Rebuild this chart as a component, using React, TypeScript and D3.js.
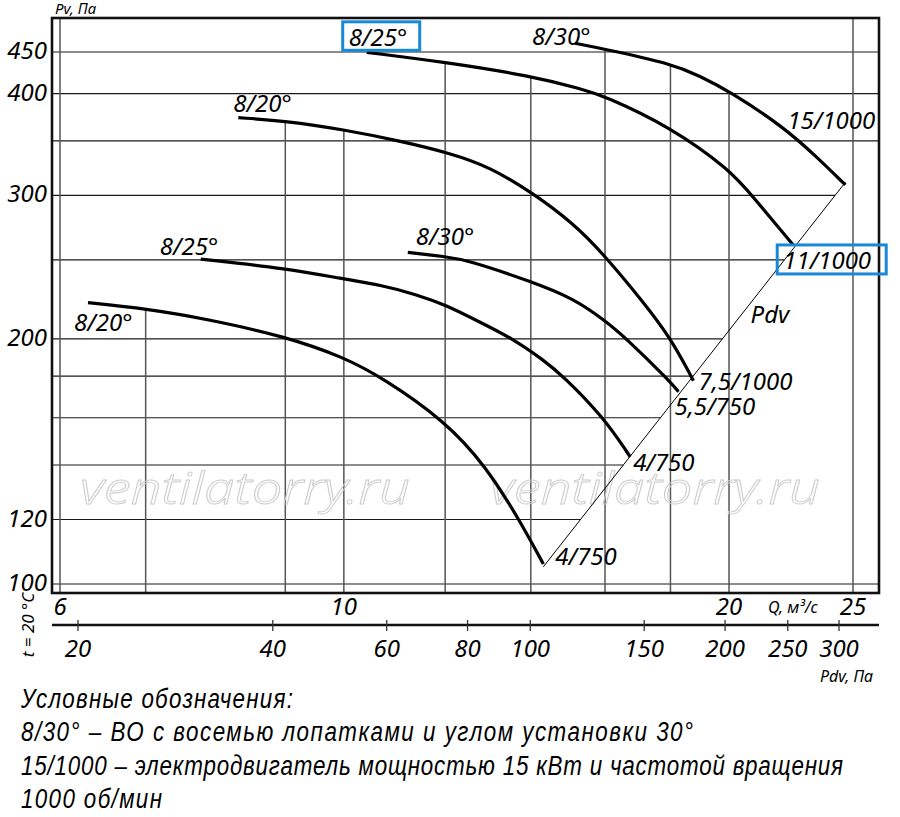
import React from "react";
import * as d3 from "d3";

// ---------- data ----------
const qGridValues = [6, 7, 9, 10, 12, 14, 16, 18, 20, 25];
const qTickLabels = [6, 10, 20, 25];
const pGridValues = [100, 120, 140, 160, 180, 200, 250, 300, 350, 400, 450];
const pTickLabels = [100, 120, 200, 300, 400, 450];
const pdvTickValues = [20, 40, 60, 80, 100, 150, 200, 250, 300];

const c1Q = [6.31, 7.0, 7.82, 9.01, 9.99, 10.74, 12.0, 12.91, 13.71, 14.32];
const c1P = [221.5, 217.8, 211.5, 201.2, 190.0, 178.9, 158.5, 139.6, 120.0, 105.8];
const c2Q = [7.73, 9.01, 9.99, 10.68, 11.4, 12.01, 12.77, 13.56, 14.32, 14.84, 15.97, 16.74];
const c2P = [250.6, 244.1, 236.9, 232.9, 226.7, 220.1, 209.7, 200, 188.4, 180, 160, 143.3];
const c3Q = [11.22, 12.01, 12.48, 14.02, 15.11, 15.98, 16.64, 17.99, 18.26];
const c3P = [255.4, 252.3, 250, 235.1, 224.3, 210.9, 200, 177.2, 172.2];
const c4Q = [8.27, 9.01, 9.99, 11.07, 12.11, 13.01, 14.06, 15.11, 15.98, 17.09, 17.99, 18.76];
const c4P = [373.7, 370.3, 361.4, 349.9, 338.0, 325.1, 301.8, 277.3, 253.5, 223.2, 201.0, 177.7];
const c5Q = [10.42, 12.02, 14.01, 15.38, 15.98, 17.99, 20.04, 20.84, 22.45];
const c5P = [449.6, 437.1, 420.5, 404.9, 397.4, 364.3, 322.4, 300, 260.8];
const c6Q = [15.16, 15.98, 17.99, 18.98, 20.04, 22.05, 23.41, 24.66];
const c6P = [461.2, 453.8, 435.8, 420.5, 402.2, 364.3, 334.7, 309.0];

const bladeLabels = ["8/20°", "8/25°", "8/30°", "8/20°", "8/25°", "8/30°"];
const motorLabels = ["4/750", "4/750", "5,5/750", "7,5/1000", "11/1000", "15/1000"];
const highlightedCurve = 4;

// dynamic pressure line Pdv = k * Q^2
const pdvK = 0.512;
const pdvQRange = [14.32, 24.66];
const pdvLabelQ = 20.2;

const legendLines = [
  "Условные обозначения:",
  "8/30° – ВО с восемью лопатками и углом установки 30°",
  "15/1000 – электродвигатель мощностью 15 кВт и частотой вращения",
  "1000 об/мин",
];
const watermarkText = "ventilatorry.ru";

// ---------- layout ----------
const W = 900;
const H = 817;
const frame = { left: 52, right: 879, top: 18, bottom: 593 };
const startOffsets = [
  [-14, 28],
  [-41, -4],
  [8, -7],
  [-5, -6],
  [-18, -6.5],
  [-43, 1.7],
];
const endOffsets = [
  [12, 1],
  [3, 14],
  [-4, 23],
  [5, 9],
  [-10, 24],
  [-58, -56],
];
const legendWidths = [272, 672, 822, 141];
const legendSquash = 0.8;
const FONT = "'Noto Sans', 'Open Sans', 'DejaVu Sans', sans-serif";
const NARROW = "'Liberation Sans', Arial, 'DejaVu Sans', sans-serif";
const BLUE = "#1a88d8";

const curves = [
  [c1Q, c1P],
  [c2Q, c2P],
  [c3Q, c3P],
  [c4Q, c4P],
  [c5Q, c5P],
  [c6Q, c6P],
];

export default function App() {
  const x = d3.scaleLog().domain([6, 25]).range([60, 853]);
  const y = d3.scaleLog().domain([100, 450]).range([584, 52]);
  const xPdv = d3.scaleLog().domain([20, 300]).range([78, 839]);

  const line = d3
    .line<[number, number]>()
    .x((d) => x(d[0]))
    .y((d) => y(d[1]))
    .curve(d3.curveBasis);

  const curvePts = curves.map(([qs, ps]) => qs.map((q, i) => [q, ps[i]] as [number, number]));

  // upper envelope of curves at q (log-log interpolation)
  const envelope = (q: number): number | null => {
    let best: number | null = null;
    curves.forEach(([qs, ps]) => {
      if (q < qs[0] || q > qs[qs.length - 1]) return;
      for (let i = 0; i < qs.length - 1; i++) {
        if (q >= qs[i] && q <= qs[i + 1]) {
          const t = (Math.log(q) - Math.log(qs[i])) / (Math.log(qs[i + 1]) - Math.log(qs[i]));
          const p = Math.exp(Math.log(ps[i]) + t * (Math.log(ps[i + 1]) - Math.log(ps[i])));
          if (best === null || p > best) best = p;
          break;
        }
      }
    });
    return best;
  };

  const pdvPmin = pdvK * pdvQRange[0] ** 2;
  const pdvPmax = pdvK * pdvQRange[1] ** 2;
  const pdvLinePts = [pdvQRange[0], pdvQRange[1]].map((q) => [x(q), y(pdvK * q * q)]);

  const pdvAxisY = 625;
  const pdvLabelX = x(pdvLabelQ);
  const pdvLabelY = y(pdvK * pdvLabelQ * pdvLabelQ);

  const italic = { fontFamily: FONT, fontStyle: "italic" as const };

  return (
    <svg
      width={W}
      height={H}
      viewBox={`0 0 ${W} ${H}`}
      style={{ position: "absolute", left: 0, top: 0, background: "#fff" }}
    >
      <rect x={0} y={0} width={W} height={H} fill="#fff" />

      {/* horizontal grid */}
      {pGridValues.map((p) => {
        const inside = p >= pdvPmin && p <= pdvPmax;
        const x2 = inside ? x(Math.sqrt(p / pdvK)) : frame.right;
        return (
          <line key={"h" + p} x1={frame.left} x2={x2} y1={y(p)} y2={y(p)} stroke="#1a1a1a" strokeWidth={1.2} />
        );
      })}

      {/* vertical grid */}
      {qGridValues.map((q) => {
        const env = envelope(q);
        const top = env === null ? frame.top : y(env) + 0.5;
        return (
          <line key={"v" + q} x1={x(q)} x2={x(q)} y1={top} y2={frame.bottom} stroke="#555" strokeWidth={1.5} />
        );
      })}

      {/* watermark */}
      {[80, 490].map((wx) => (
        <text
          key={"wm" + wx}
          x={wx}
          y={504}
          textLength={330}
          lengthAdjust="spacingAndGlyphs"
          fontSize={44}
          fill="none"
          stroke="#cccccc"
          strokeWidth={0.9}
          style={{ ...italic, fontWeight: 300 }}
        >
          {watermarkText}
        </text>
      ))}

      {/* Pdv line */}
      <line
        x1={pdvLinePts[0][0]}
        y1={pdvLinePts[0][1]}
        x2={pdvLinePts[1][0]}
        y2={pdvLinePts[1][1]}
        stroke="#000"
        strokeWidth={1}
      />

      {/* curves */}
      {curvePts.map((pts, i) => (
        <path key={"c" + i} d={line(pts) || ""} fill="none" stroke="#000" strokeWidth={3.2} strokeLinecap="butt" />
      ))}

      {/* frame */}
      <rect
        x={frame.left}
        y={frame.top}
        width={frame.right - frame.left}
        height={frame.bottom - frame.top}
        fill="none"
        stroke="#111"
        strokeWidth={2.6}
      />

      {/* y axis labels */}
      <text x={55} y={14} fontSize={15} style={italic}>
        Pv, Па
      </text>
      {pTickLabels.map((p) => (
        <text key={"yl" + p} x={47} y={y(p) + 7} textAnchor="end" fontSize={24} style={italic}>
          {p}
        </text>
      ))}

      {/* Q axis labels */}
      {qTickLabels.map((q) => (
        <text key={"ql" + q} x={x(q)} y={615} textAnchor="middle" fontSize={24} style={italic}>
          {q}
        </text>
      ))}
      <text x={768} y={613} fontSize={16} style={italic}>
        Q, м³/с
      </text>

      {/* Pdv axis */}
      <line x1={frame.left} x2={frame.right} y1={pdvAxisY} y2={pdvAxisY} stroke="#111" strokeWidth={2.4} />
      {pdvTickValues.map((v) => (
        <g key={"pt" + v}>
          <line x1={xPdv(v)} x2={xPdv(v)} y1={pdvAxisY - 5} y2={pdvAxisY + 6} stroke="#333" strokeWidth={1.3} />
          <text x={xPdv(v)} y={657} textAnchor="middle" fontSize={24} style={italic}>
            {v}
          </text>
        </g>
      ))}
      <text x={820} y={682} fontSize={16} style={italic}>
        Pdv, Па
      </text>
      <text x={0} y={0} transform="translate(34,625) rotate(-90)" textAnchor="middle" fontSize={17} style={italic}>
        t = 20 °C
      </text>

      {/* curve labels */}
      {curvePts.map((pts, i) => {
        const s = pts[0];
        const e = pts[pts.length - 1];
        const sx = x(s[0]) + startOffsets[i][0];
        const sy = y(s[1]) + startOffsets[i][1];
        const ex = x(e[0]) + endOffsets[i][0];
        const ey = y(e[1]) + endOffsets[i][1];
        const hl = i === highlightedCurve;
        return (
          <g key={"lab" + i}>
            {hl && (
              <rect x={sx - 6} y={sy - 24} width={77} height={28.5} fill="none" stroke={BLUE} strokeWidth={3} />
            )}
            <text x={sx} y={sy} fontSize={24} style={italic}>
              {bladeLabels[i]}
            </text>
            {hl && (
              <rect x={ex - 6} y={ey - 24} width={109} height={29} fill="none" stroke={BLUE} strokeWidth={3} />
            )}
            <text x={ex} y={ey} fontSize={24} style={italic}>
              {motorLabels[i]}
            </text>
          </g>
        );
      })}
      <text x={pdvLabelX + 16} y={pdvLabelY} fontSize={24} style={italic}>
        Pdv
      </text>

      {/* legend */}
      {legendLines.map((t, i) => (
        <text
          key={"lg" + i}
          x={0}
          y={0}
          transform={`translate(21, ${708 + i * 33.4}) scale(${legendSquash}, 1)`}
          fontSize={28}
          textLength={legendWidths[i] / legendSquash}
          lengthAdjust="spacing"
          style={{ fontFamily: NARROW, fontStyle: "italic" }}
        >
          {t}
        </text>
      ))}
    </svg>
  );
}
